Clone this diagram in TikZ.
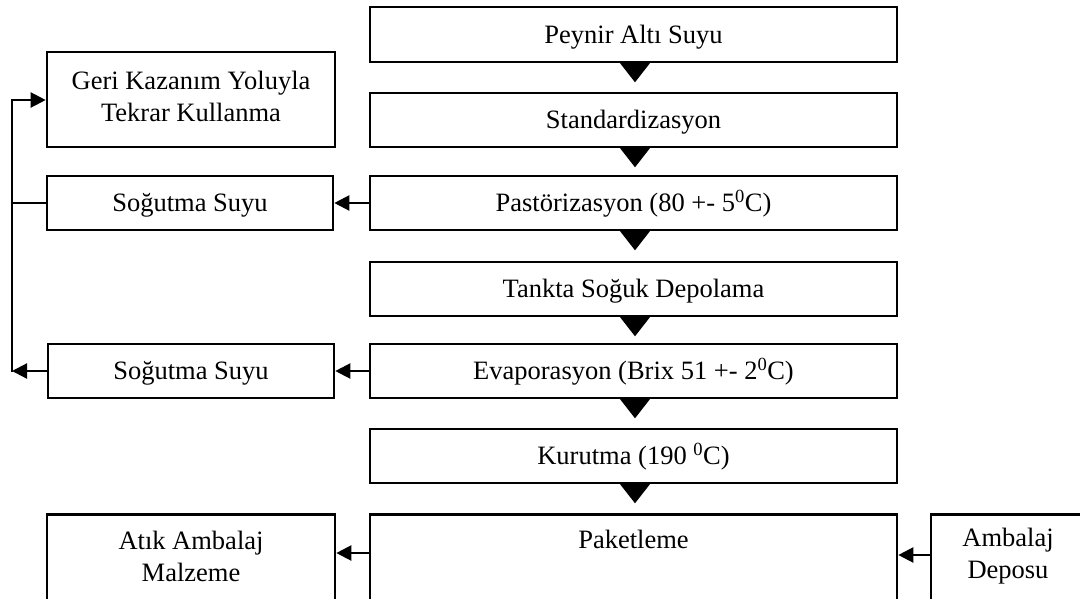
\documentclass[tikz,border=0pt]{standalone}
\usepackage{fontspec}
\setmainfont{Liberation Serif}
\usetikzlibrary{arrows.meta,calc}
\begin{document}
\begin{tikzpicture}[x=1pt,y=-1pt,
  box/.style={draw,line width=2.6pt,inner sep=0pt,fill=white,font=\fontsize{26.5}{32}\selectfont,align=center},
  cbox/.style={box,minimum width=527pt,minimum height=54pt,text height=17pt,text depth=0pt},
  lbox/.style={box,minimum width=286pt,minimum height=54pt,text height=17pt,text depth=0pt},
  lbl/.style={font=\fontsize{26.5}{32}\selectfont,align=center,inner sep=0pt},
  arr/.style={line width=2.2pt,-{Triangle[length=15pt,width=15pt]}},
  ln/.style={line width=2.2pt}]
\useasboundingbox (0,0) rectangle (1080,598);
\clip (0,0) rectangle (1080,598);
% central column
\node[cbox,minimum height=55pt] (b1) at (633.5,34.5) {Peynir Altı Suyu};
\node[cbox] (b2) at (633.5,120) {Standardizasyon};
\node[cbox] (b3) at (633.5,203) {Pastörizasyon (80 +- 5\textsuperscript{0}C)};
\node[cbox] (b4) at (633.5,289) {Tankta Soğuk Depolama};
\node[cbox] (b5) at (633.5,371) {Evaporasyon (Brix 51 +- 2\textsuperscript{0}C)};
\node[cbox] (b6) at (633.5,456) {Kurutma (190 \textsuperscript{0}C)};
\node[cbox,minimum height=200pt,anchor=north] (b7) at (633.5,513) {};
\node[lbl] (t7) at (633.5,539) {Paketleme};
% left column
\node[box,minimum width=288pt,minimum height=95pt] (geri) at (191,99.5) {};
\node[lbl] (tgeri) at (191,96) {Geri Kazanım Yoluyla\\Tekrar Kullanma};
\node[lbox] (s1) at (190,203) {Soğutma Suyu};
\node[lbox] (s2) at (191,371) {Soğutma Suyu};
\node[box,minimum width=288pt,minimum height=200pt,anchor=north] (atik) at (191,513) {};
\node[lbl] (tatik) at (191,556) {Atık Ambalaj\\Malzeme};
% right
\node[box,minimum width=154pt,minimum height=200pt,anchor=north] (amb) at (1008,513) {};
\node[lbl] (tamb) at (1008,556) {Ambalaj\\Deposu};
% flow triangles
\foreach \b in {b1,b2,b3,b4,b5,b6}{
  \fill ($(\b.south)+(1.5,-1.5)$) ++(-16,0) -- ++(32,0) -- ++(-16,20.5) -- cycle;
}
% side arrows
\draw[arr] (b3.west) -- (s1.east);
\draw[arr] (b5.west) -- (s2.east);
\draw[arr] ($(b7.north west)+(0,40)$) -- ($(atik.north east)+(0,40)$);
\draw[arr] ($(amb.north west)+(0,42)$) -- ($(b7.north east)+(0,42)$);
% return line
\coordinate (vtop) at (12,100);
\coordinate (vbot) at (12,372);
\draw[arr] (s2.west) -- (s2.west -| vbot);
\draw[arr] (vbot) -- (vtop) -- (vtop -| geri.west);
\draw[ln] (s1.west) -- (s1.west -| vtop);
\end{tikzpicture}
\end{document}
